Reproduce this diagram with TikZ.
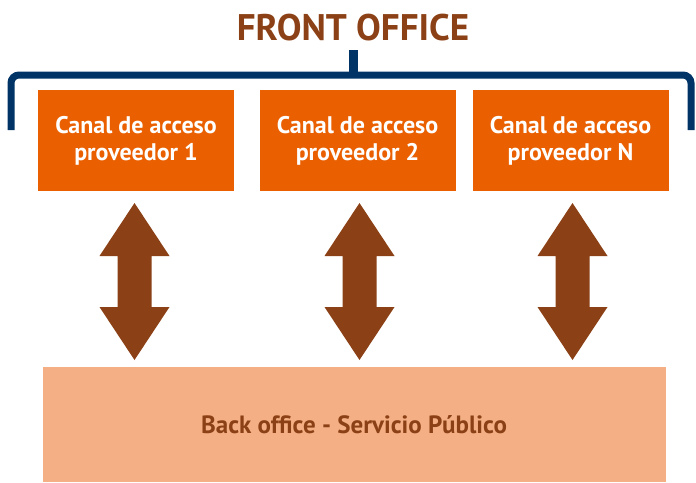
\documentclass[tikz,border=0pt]{standalone}
\usepackage{fontspec}
\setmainfont{PT Sans}
\definecolor{orangebox}{HTML}{EA6000}
\definecolor{peach}{HTML}{F4B084}
\definecolor{brownc}{HTML}{8B4015}
\definecolor{navy}{HTML}{003466}
\begin{document}
\begin{tikzpicture}[x=1pt,y=-1pt,
  chan/.style={fill=orangebox, text=white, font=\bfseries\fontsize{24}{27}\selectfont, align=center, minimum width=196pt, minimum height=101pt, inner sep=0pt},
  dblarrow/.style={fill=brownc, draw=none}]
\useasboundingbox (0,0) rectangle (696,482);
\node[text=brownc, font=\bfseries\fontsize{37}{40}\selectfont] (title) at (353,28) {FRONT OFFICE};
\draw[navy, line width=7pt, rounded corners=8pt] (11,130) -- (11,75) -- (691,75) -- (691,130);
\draw[navy, line width=9pt] (353.5,50) -- (353.5,75);
\node[chan] (c1) at (136,140.5) {Canal de acceso\\proveedor 1};
\node[chan] (c2) at (357.5,140.5) {Canal de acceso\\proveedor 2};
\node[chan] (c3) at (570.5,140.5) {Canal de acceso\\proveedor N};
\node[fill=peach, minimum width=623pt, minimum height=115pt, inner sep=0pt, text=brownc, font=\bfseries\fontsize{25}{28}\selectfont] (back) at (354,424.5) {Back office - Servicio Público};
\foreach \cx in {134.5,359.5,572.5}{
  \fill[brownc] (\cx,203) -- (\cx+35,256) -- (\cx+17,256) -- (\cx+17,307) -- (\cx+35,307) -- (\cx,360) -- (\cx-35,307) -- (\cx-17,307) -- (\cx-17,256) -- (\cx-35,256) -- cycle;
}
\end{tikzpicture}
\end{document}
